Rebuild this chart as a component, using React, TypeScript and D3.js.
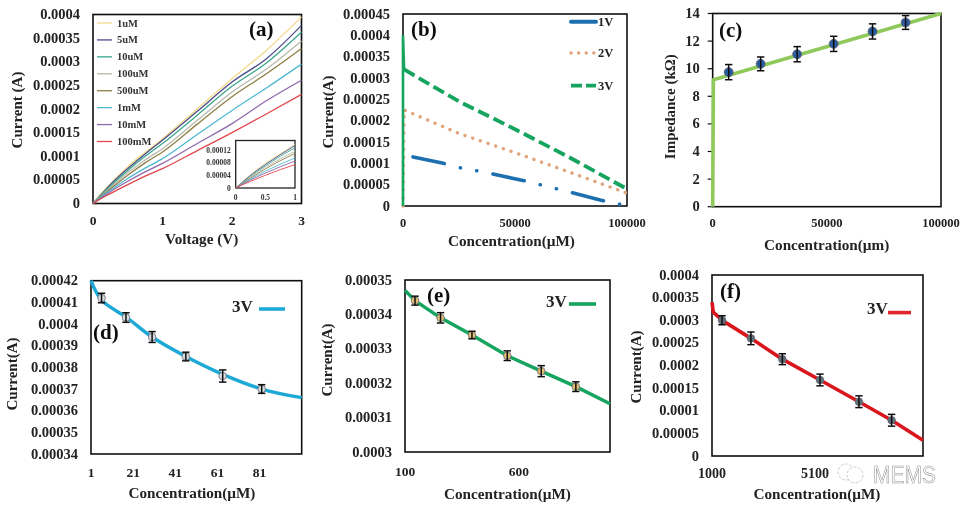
// Six-panel sensor figure: I-V curves, concentration sweeps and impedance.
import * as d3 from "d3";

const SERIF = "'Liberation Serif', serif";

// (a) I-V curves
const voltages = [0, 0.1, 0.25, 0.5, 0.75, 1, 1.5, 2, 2.5, 3];
const ivLabels = ["1uM", "5uM", "10uM", "100uM", "500uM", "1mM", "10mM", "100mM"];
const ivColors = ["#f3d98a", "#4b4d8c", "#3aa58c", "#b9b8ac", "#8d7f45", "#4fb9d2", "#8f68ab", "#e2474c"];
const ivValues = [
  [0, 0.000018, 0.000042, 0.000078, 0.000108, 0.000137, 0.0002, 0.000264, 0.000325, 0.000395],
  [0, 0.000016, 0.00004, 0.000074, 0.000105, 0.000134, 0.000195, 0.000257, 0.000307, 0.000377],
  [0, 0.000015, 0.000037, 0.00007, 0.0001, 0.000127, 0.000187, 0.000248, 0.000298, 0.000363],
  [0, 0.000014, 0.000034, 0.000065, 0.000092, 0.000116, 0.000176, 0.000236, 0.000285, 0.000344],
  [0, 0.000013, 0.000031, 0.00006, 0.000086, 0.000109, 0.000168, 0.000226, 0.000275, 0.000328],
  [0, 0.000012, 0.000028, 0.000053, 0.000075, 0.000095, 0.000146, 0.000197, 0.000245, 0.000295],
  [0, 0.00001, 0.000025, 0.000047, 0.000067, 0.000085, 0.000127, 0.000169, 0.000218, 0.000261],
  [0, 0.000009, 0.000021, 0.00004, 0.000058, 0.000074, 0.000112, 0.00015, 0.00019, 0.000231],
];
const ivYTicks = [0, 0.00005, 0.0001, 0.00015, 0.0002, 0.00025, 0.0003, 0.00035, 0.0004];
const insetYTicks = [0, 0.00004, 0.00008, 0.00012];

// (b) current vs concentration at three voltages
const sweep1X = [4500, 18000, 25000, 32500, 40000, 53500, 75000, 88000, 97500];
const sweep1Y = [0.000115, 0.0001, 0.00009, 0.000083, 0.000075, 0.00006, 0.000032, 0.000014, 0.000003];
const sweep2X = [0, 500, 25000, 50000, 75000, 100000];
const sweep2Y = [0, 0.000225, 0.00017, 0.000125, 0.000078, 0.00003];
const sweep3X = [500, 25000, 50000, 75000, 100000];
const sweep3Y = [0.00032, 0.000245, 0.00018, 0.000112, 0.00004];
const sweep3RiseX = [0, 0, 500];
const sweep3RiseY = [0, 0.0004, 0.00032];
const sweepYTicks = [0, 0.00005, 0.0001, 0.00015, 0.0002, 0.00025, 0.0003, 0.00035, 0.0004, 0.00045];

// (c) impedance
const impLineX = [0, 300, 100000];
const impLineY = [0, 9.2, 14];
const impX = [7000, 21000, 37000, 53000, 70000, 84500];
const impY = [9.75, 10.35, 11.05, 11.8, 12.7, 13.35];
const impErr = [0.55, 0.5, 0.55, 0.55, 0.55, 0.5];
const impYTicks = [0, 2, 4, 6, 8, 10, 12, 14];

// (d) low range
const lowLineX = [1, 6, 18, 30, 46, 63, 82, 101];
const lowLineY = [0.00042, 0.000411, 0.000403, 0.000394, 0.000385, 0.000377, 0.00037, 0.000366];
const lowX = [6, 17.6, 30, 46, 63.5, 82];
const lowY = [0.000412, 0.000403, 0.000394, 0.000385, 0.000376, 0.00037];
const lowErr = [0.0000022, 0.0000022, 0.0000025, 0.000002, 0.0000028, 0.000002];
const lowYTicks = [0.00034, 0.00035, 0.00036, 0.00037, 0.00038, 0.00039, 0.0004, 0.00041, 0.00042];

// (e) mid range
const midLineX = [100, 144, 256, 394, 549, 698, 850, 1000];
const midLineY = [0.000347, 0.000344, 0.000339, 0.000334, 0.000328, 0.0003235, 0.000319, 0.000314];
const midX = [144, 256, 394, 549, 698, 850];
const midY = [0.000344, 0.000339, 0.000334, 0.000328, 0.0003235, 0.000319];
const midErr = [0.0000013, 0.0000015, 0.0000011, 0.0000014, 0.0000016, 0.0000014];
const midYTicks = [0.0003, 0.00031, 0.00032, 0.00033, 0.00034, 0.00035];

// (f) high range
const highLineX = [1000, 1050, 1400, 2550, 3800, 5300, 6850, 8150, 9400];
const highLineY = [0.00034, 0.000318, 0.0003, 0.00026, 0.000214, 0.000168, 0.00012, 0.000079, 0.000035];
const highX = [1400, 2550, 3800, 5300, 6850, 8150];
const highY = [0.0003, 0.00026, 0.000214, 0.000168, 0.00012, 0.000079];
const highErr = [0.00001, 0.000014, 0.000012, 0.000013, 0.000013, 0.000013];
const highYTicks = [0, 0.00005, 0.0001, 0.00015, 0.0002, 0.00025, 0.0003, 0.00035, 0.0004];

type Box = { x0: number; x1: number; y0: number; y1: number };
type Scale = d3.ScaleLinear<number, number>;

const linePath = (xs: number[], ys: number[], x: Scale, y: Scale, curve: d3.CurveFactory = d3.curveLinear) =>
  d3
    .line<number>()
    .x((d) => x(d))
    .y((_, i) => y(ys[i]))
    .curve(curve)(xs) ?? "";

function Frame(props: {
  box: Box;
  x: Scale;
  y: Scale;
  xTicks: number[];
  yTicks: number[];
  xLabel: string;
  yLabel: string;
  xLabelX: number;
  xLabelY: number;
  yLabelX: number;
  yLabelY: number;
  xTickDy: number;
  xTickSize: number;
}) {
  const { box, x, y, xTicks, yTicks, xLabel, yLabel, xLabelX, xLabelY, yLabelX, yLabelY, xTickDy, xTickSize } = props;
  return (
    <g fontFamily={SERIF} fontWeight="bold" fill="#222">
      <rect x={box.x0} y={box.y1} width={box.x1 - box.x0} height={box.y0 - box.y1} fill="none" stroke="#111" strokeWidth={1.6} />
      {yTicks.map((t) => (
        <text key={t} x={box.x0 - 13} y={y(t) + 4.5} textAnchor="end" fontSize={14.5}>
          {String(t)}
        </text>
      ))}
      {xTicks.map((t) => (
        <text key={t} x={x(t)} y={box.y0 + xTickDy} textAnchor="middle" fontSize={xTickSize}>
          {String(t)}
        </text>
      ))}
      <text x={xLabelX} y={xLabelY} textAnchor="middle" fontSize={15.2}>
        {xLabel}
      </text>
      <text transform={`translate(${yLabelX},${yLabelY}) rotate(-90)`} textAnchor="middle" fontSize={15}>
        {yLabel}
      </text>
    </g>
  );
}

function Points(props: { xs: number[]; ys: number[]; errs: number[]; x: Scale; y: Scale; fill: string; r: number }) {
  const { xs, ys, errs, x, y, fill, r } = props;
  return (
    <g>
      {xs.map((v, i) => (
        <g key={v} stroke="#111" strokeWidth={1.5} fill="none">
          <circle cx={x(v)} cy={y(ys[i])} r={r} fill={fill} stroke="#667" strokeWidth={0.8} />
          <line x1={x(v)} x2={x(v)} y1={y(ys[i] - errs[i])} y2={y(ys[i] + errs[i])} />
          <line x1={x(v) - 3.7} x2={x(v) + 3.7} y1={y(ys[i] - errs[i])} y2={y(ys[i] - errs[i])} />
          <line x1={x(v) - 3.7} x2={x(v) + 3.7} y1={y(ys[i] + errs[i])} y2={y(ys[i] + errs[i])} />
        </g>
      ))}
    </g>
  );
}

const PanelTag = (p: { x: number; y: number; t: string }) => (
  <text x={p.x} y={p.y} fontFamily={SERIF} fontWeight="bold" fontSize={21} fill="#111">
    {p.t}
  </text>
);

const VoltKey = (p: { x: number; y: number; lineY: number; color: string; x1: number; x2: number }) => (
  <g>
    <text x={p.x} y={p.y} fontFamily={SERIF} fontWeight="bold" fontSize={17} fill="#222">
      3V
    </text>
    <line x1={p.x1} x2={p.x2} y1={p.lineY} y2={p.lineY} stroke={p.color} strokeWidth={3.6} />
  </g>
);

function PanelA() {
  const box = { x0: 93, x1: 301.5, y0: 203.5, y1: 14.5 };
  const x = d3.scaleLinear().domain([0, 3]).range([box.x0, box.x1]);
  const y = d3.scaleLinear().domain([0, 0.0004]).range([box.y0, box.y1]);
  const legendY = d3.scalePoint<string>().domain(ivLabels).range([23, 141.5]);
  const ins = { x0: 235.7, x1: 295, y0: 188, y1: 140.5 };
  const ix = d3.scaleLinear().domain([0, 1]).range([ins.x0, ins.x1]);
  const iy = d3.scaleLinear().domain([0, 0.00015]).range([ins.y0, ins.y1]);
  const insetCount = voltages.indexOf(1) + 1;
  return (
    <g>
      <Frame box={box} x={x} y={y} xTicks={[0, 1, 2, 3]} yTicks={ivYTicks} xLabel="Voltage (V)" yLabel="Current (A)" xLabelX={201.7} xLabelY={244} yLabelX={22} yLabelY={110} xTickDy={21.5} xTickSize={13.5} />
      {ivValues.map((vals, i) => (
        <path key={ivLabels[i]} d={linePath(voltages, vals, x, y, d3.curveMonotoneX)} fill="none" stroke={ivColors[i]} strokeWidth={1.3} />
      ))}
      {ivLabels.map((l, i) => (
        <g key={l}>
          <line x1={97} x2={112} y1={legendY(l)} y2={legendY(l)} stroke={ivColors[i]} strokeWidth={1.3} />
          <text x={117} y={(legendY(l) ?? 0) + 3.5} fontFamily={SERIF} fontWeight="bold" fontSize={10.5} fill="#333">
            {l}
          </text>
        </g>
      ))}
      <PanelTag x={249} y={36} t="(a)" />
      <rect x={ins.x0} y={ins.y1} width={ins.x1 - ins.x0} height={ins.y0 - ins.y1} fill="#fff" stroke="#222" strokeWidth={1.3} />
      {ivValues.map((vals, i) => (
        <path
          key={ivLabels[i]}
          d={linePath(voltages.slice(0, insetCount), vals.slice(0, insetCount), ix, iy, d3.curveMonotoneX)}
          fill="none"
          stroke={ivColors[i]}
          strokeWidth={0.9}
        />
      ))}
      <g fontFamily={SERIF} fontWeight="bold" fontSize={7.5} fill="#333">
        {insetYTicks.map((t) => (
          <text key={t} x={ins.x0 - 5} y={iy(t) + 2.5} textAnchor="end">
            {String(t)}
          </text>
        ))}
        {[0, 0.5, 1].map((t) => (
          <text key={t} x={ix(t)} y={ins.y0 + 12} textAnchor="middle">
            {String(t)}
          </text>
        ))}
      </g>
    </g>
  );
}

function PanelB() {
  const box = { x0: 403, x1: 627, y0: 206, y1: 14 };
  const x = d3.scaleLinear().domain([0, 100000]).range([box.x0, box.x1]);
  const y = d3.scaleLinear().domain([0, 0.00045]).range([box.y0, box.y1]);
  const keys = [
    { label: "1V", color: "#1f6fb0", dash: "", ly: 21.7, w: 4, cap: "round" as const },
    { label: "2V", color: "#e2a47c", dash: "0.1 7.5", ly: 53, w: 3.4, cap: "round" as const },
    { label: "3V", color: "#12a45f", dash: "11 4", ly: 85.6, w: 3.8, cap: "butt" as const },
  ];
  return (
    <g>
      <Frame box={box} x={x} y={y} xTicks={[0, 50000, 100000]} yTicks={sweepYTicks} xLabel="Concentration(µM)" yLabel="Current(A)" xLabelX={511.5} xLabelY={246} yLabelX={333} yLabelY={112} xTickDy={21} xTickSize={12.5} />
      <path
        d={linePath(sweep1X, sweep1Y, x, y)}
        fill="none"
        stroke="#1f6fb0"
        strokeWidth={3.6}
        strokeDasharray="32 16.5 0.1 16.5 0.1 16.5"
        strokeLinecap="round"
      />
      <path d={linePath(sweep2X, sweep2Y, x, y)} fill="none" stroke="#e2a47c" strokeWidth={3.4} strokeDasharray="0.1 8" strokeLinecap="round" />
      <path d={linePath(sweep3X, sweep3Y, x, y)} fill="none" stroke="#12a45f" strokeWidth={3.8} strokeDasharray="12 5" />
      <path d={linePath(sweep3RiseX, sweep3RiseY, x, y)} fill="none" stroke="#12a45f" strokeWidth={2.6} />
      <PanelTag x={411} y={36} t="(b)" />
      {keys.map((k) => (
        <g key={k.label}>
          <line x1={571} x2={596} y1={k.ly} y2={k.ly} stroke={k.color} strokeWidth={k.w} strokeDasharray={k.dash} strokeLinecap={k.cap} />
          <text x={598} y={k.ly + 4} fontFamily={SERIF} fontWeight="bold" fontSize={12.5} fill="#222">
            {k.label}
          </text>
        </g>
      ))}
    </g>
  );
}

function PanelC() {
  const box = { x0: 712.7, x1: 941, y0: 206.7, y1: 13.5 };
  const x = d3.scaleLinear().domain([0, 100000]).range([box.x0, box.x1]);
  const y = d3.scaleLinear().domain([0, 14]).range([box.y0, box.y1]);
  return (
    <g>
      <Frame box={box} x={x} y={y} xTicks={[0, 50000, 100000]} yTicks={impYTicks} xLabel="Concentration(µm)" yLabel="Impedance (kΩ)" xLabelX={826.7} xLabelY={250} yLabelX={675} yLabelY={106.7} xTickDy={20.5} xTickSize={12.5} />
      {impYTicks.map((t) => (
        <line key={t} x1={box.x0 - 5} x2={box.x0} y1={y(t)} y2={y(t)} stroke="#111" strokeWidth={1.2} />
      ))}
      <path d={linePath(impLineX, impLineY, x, y)} fill="none" stroke="#8fc95a" strokeWidth={3.6} />
      <Points xs={impX} ys={impY} errs={impErr} x={x} y={y} fill="#2a5a9c" r={4.5} />
      <PanelTag x={719} y={37} t="(c)" />
    </g>
  );
}

function PanelD() {
  const box = { x0: 91, x1: 301.7, y0: 454, y1: 280.7 };
  const x = d3.scaleLinear().domain([1, 101]).range([box.x0, box.x1]);
  const y = d3.scaleLinear().domain([0.00034, 0.00042]).range([box.y0, box.y1]);
  return (
    <g>
      <Frame box={box} x={x} y={y} xTicks={[1, 21, 41, 61, 81]} yTicks={lowYTicks} xLabel="Concentration(µM)" yLabel="Current(A)" xLabelX={192} xLabelY={498} yLabelX={17} yLabelY={374} xTickDy={23} xTickSize={13.5} />
      <path d={linePath(lowLineX, lowLineY, x, y, d3.curveCatmullRom)} fill="none" stroke="#1fa9d6" strokeWidth={3.4} />
      <Points xs={lowX} ys={lowY} errs={lowErr} x={x} y={y} fill="#d8dde0" r={3.8} />
      <PanelTag x={93} y={339} t="(d)" />
      <VoltKey x={232} y={311.7} lineY={309} color="#1fa9d6" x1={259} x2={285} />
    </g>
  );
}

function PanelE() {
  const box = { x0: 405, x1: 610, y0: 452, y1: 280 };
  const x = d3.scaleLinear().domain([100, 1000]).range([box.x0, box.x1]);
  const y = d3.scaleLinear().domain([0.0003, 0.00035]).range([box.y0, box.y1]);
  return (
    <g>
      <Frame box={box} x={x} y={y} xTicks={[100, 600]} yTicks={midYTicks} xLabel="Concentration(µM)" yLabel="Current(A)" xLabelX={507.5} xLabelY={499} yLabelX={332} yLabelY={360} xTickDy={24} xTickSize={13.5} />
      <path d={linePath(midLineX, midLineY, x, y)} fill="none" stroke="#12a45f" strokeWidth={3.4} />
      <Points xs={midX} ys={midY} errs={midErr} x={x} y={y} fill="#e0bd72" r={3.8} />
      <PanelTag x={427} y={302} t="(e)" />
      <VoltKey x={546} y={307} lineY={304} color="#12a45f" x1={569} x2={596} />
    </g>
  );
}

function PanelF() {
  const box = { x0: 712, x1: 923, y0: 456, y1: 275 };
  const x = d3.scaleLinear().domain([1000, 9400]).range([box.x0, box.x1]);
  const y = d3.scaleLinear().domain([0, 0.0004]).range([box.y0, box.y1]);
  return (
    <g>
      <Frame box={box} x={x} y={y} xTicks={[1000, 5100]} yTicks={highYTicks} xLabel="Concentration(µM)" yLabel="Current(A)" xLabelX={817} xLabelY={499} yLabelX={641} yLabelY={367} xTickDy={22} xTickSize={14} />
      <path d={linePath(highLineX, highLineY, x, y)} fill="none" stroke="#d8141c" strokeWidth={3.6} />
      <Points xs={highX} ys={highY} errs={highErr} x={x} y={y} fill="#5e6f78" r={3.8} />
      <PanelTag x={720} y={298} t="(f)" />
      <VoltKey x={867} y={314} lineY={312.6} color="#e0282e" x1={888} x2={911} />
    </g>
  );
}

// faint outlined watermark bottom right
function Watermark() {
  return (
    <g>
      <g fill="#fff" stroke="#a8a8a8" strokeWidth={0.6} strokeDasharray="3 1.5">
        <circle cx={846} cy={472} r={8} />
        <circle cx={855} cy={475} r={8} />
      </g>
      <text
        transform="translate(873,483) scale(1,1.1)"
        fontFamily="'Liberation Sans', sans-serif"
        fontSize={21}
        fill="#fff"
        stroke="#909090"
        strokeWidth={0.5}
      >
        MEMS
      </text>
    </g>
  );
}

export default function App() {
  return (
    <svg width={967} height={515} style={{ position: "absolute", left: 0, top: 0, background: "#fff" }}>
      <defs>
        <filter id="soft" x="0" y="0" width="100%" height="100%">
          <feGaussianBlur stdDeviation={0.35} />
        </filter>
      </defs>
      <g filter="url(#soft)">
        <PanelA />
        <PanelB />
        <PanelC />
        <PanelD />
        <PanelE />
        <PanelF />
        <Watermark />
      </g>
    </svg>
  );
}
